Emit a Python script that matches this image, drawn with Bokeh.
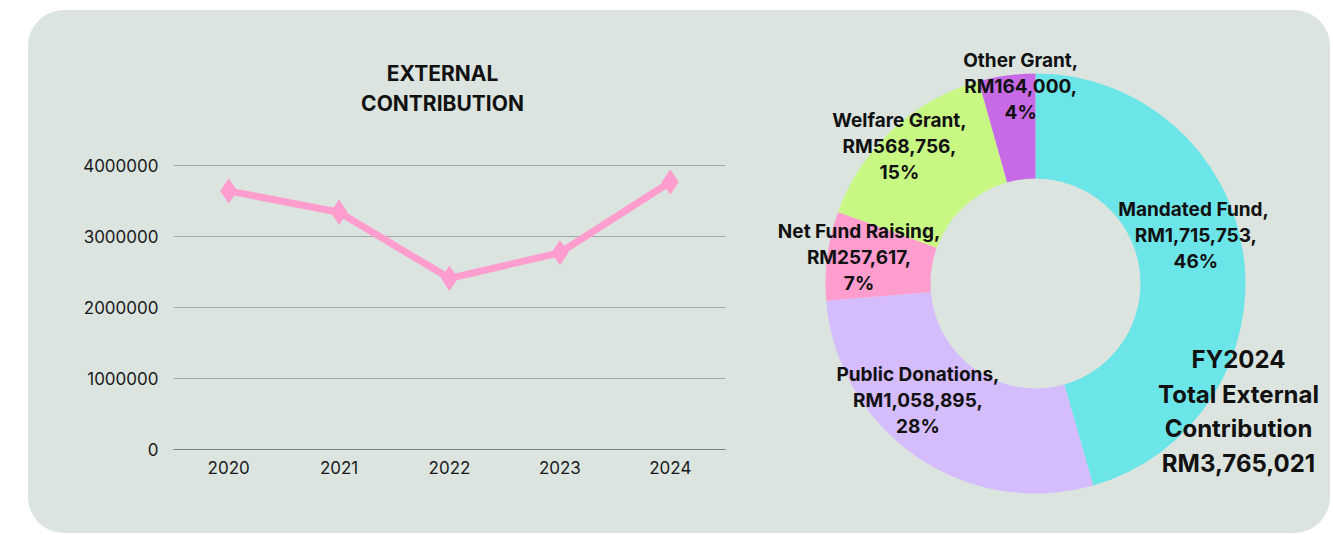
import math
from bokeh.plotting import figure
from bokeh.models import Range1d, FixedTicker, NumeralTickFormatter, Row, ColumnDataSource
from bokeh.core.properties import value
from bokeh.embed import file_html
from bokeh.resources import INLINE

# ---------------- data ----------------
years = ["2020", "2021", "2022", "2023", "2024"]
contribution = [3640000, 3340000, 2410000, 2770000, 3765021]

sources = ["Mandated  Fund", "Public Donations", "Net Fund Raising", "Welfare Grant", "Other Grant"]
amounts = [1715753, 1058895, 257617, 568756, 164000]
slice_colors = ["#6be5e8", "#d4bcfd", "#ff9dcf", "#c8f784", "#c86ae6"]
y_ticks = [0, 1000000, 2000000, 3000000, 4000000]

FONT = "Inter"
PANEL = "#dbe4df"
TXT = "#1a1a1a"
H = 523

# ---------------- line chart ----------------
p1 = figure(x_range=years, y_range=Range1d(0, 5800000), width=717, height=H,
            output_backend="svg", toolbar_location=None,
            min_border_left=145, min_border_right=20, min_border_top=27, min_border_bottom=H - 439)
p1.frame_align = False
p1.background_fill_alpha = 0
p1.border_fill_alpha = 0
p1.outline_line_color = None
p1.xgrid.grid_line_color = None
p1.ygrid.grid_line_color = "#a2a9a5"
p1.ygrid.grid_line_width = 1
p1.yaxis.ticker = FixedTicker(ticks=y_ticks)
p1.yaxis.formatter = NumeralTickFormatter(format="0")
for ax in (p1.xaxis[0], p1.yaxis[0]):
    ax.major_tick_line_color = None
    ax.minor_tick_line_color = None
    ax.major_label_text_font = FONT
    ax.major_label_text_font_size = "17px"
    ax.major_label_text_color = TXT
p1.yaxis.axis_line_color = None
p1.yaxis.major_label_standoff = 9
p1.xaxis.axis_line_color = "#7d8380"
p1.xaxis.major_label_standoff = 5

p1.line(years, contribution, line_color="#ff9dcf", line_width=7)
p1.scatter(years, contribution, marker="diamond", size=24, color="#ff9dcf")
p1.text(x=["2022"], y=[5080000], text=["EXTERNAL\nCONTRIBUTION"], x_offset=-7,
        text_font=value(FONT), text_font_style="bold", text_font_size="21px",
        text_align="center", text_baseline="middle", text_line_height=1.2, text_color="#111")

# ---------------- donut ----------------
total = sum(amounts)
fr = [a / total for a in amounts]
cum = [0]
for f in fr:
    cum.append(cum[-1] + f)
start = [math.pi / 2 - 2 * math.pi * c for c in cum[:-1]]
end = [math.pi / 2 - 2 * math.pi * c for c in cum[1:]]
mid = [(s + e) / 2 for s, e in zip(start, end)]

OUTER, INNER = 210, 105
W2 = 585
p2 = figure(x_range=Range1d(-290, W2 - 290), y_range=Range1d(-(H - 273), 273), width=W2, height=H,
            output_backend="svg", toolbar_location=None, min_border=0)
p2.frame_align = False
p2.background_fill_alpha = 0
p2.border_fill_alpha = 0
p2.outline_line_color = None
p2.axis.visible = False
p2.grid.visible = False

src = ColumnDataSource(dict(start=start, end=end, color=slice_colors))
p2.annular_wedge(x=0, y=0, inner_radius=INNER, outer_radius=OUTER, start_angle="start",
                 end_angle="end", direction="clock", fill_color="color", line_color=None, source=src)

label_r = 175
nudge = [(-13, 24), (-18, 27), (-3, 3), (-17, 9), (9, 24)]
lx = [label_r * math.cos(m) + n[0] for m, n in zip(mid, nudge)]
ly = [label_r * math.sin(m) + n[1] for m, n in zip(mid, nudge)]
labels = [f"{s},\nRM{a:,},\n{round(f * 100)}%" for s, a, f in zip(sources, amounts, fr)]
p2.text(x=lx, y=ly, text=labels, text_font=value(FONT), text_font_style="bold",
        text_font_size="19px", text_align="center", text_baseline="middle",
        text_line_height=1.13, text_color="#111")
p2.text(x=[203], y=[-128], text=[f"FY2024\nTotal External\nContribution\nRM{total:,}"],
        text_font=value(FONT), text_font_style="bold", text_font_size="24px",
        text_align="center", text_baseline="middle", text_line_height=1.2, text_color="#111")

layout = Row(children=[p1, p2], margin=(10, 0, 0, 28),
             styles={"background-color": PANEL, "border-radius": "36px"})

html = file_html(layout, INLINE, title="External Contribution")
html = html.replace("<body>", '<body style="background: linear-gradient(20deg, #dcf3f0 0%, #e3faef 60%, #e4fbee 100%);">', 1)
open("out.html", "w").write(html)
